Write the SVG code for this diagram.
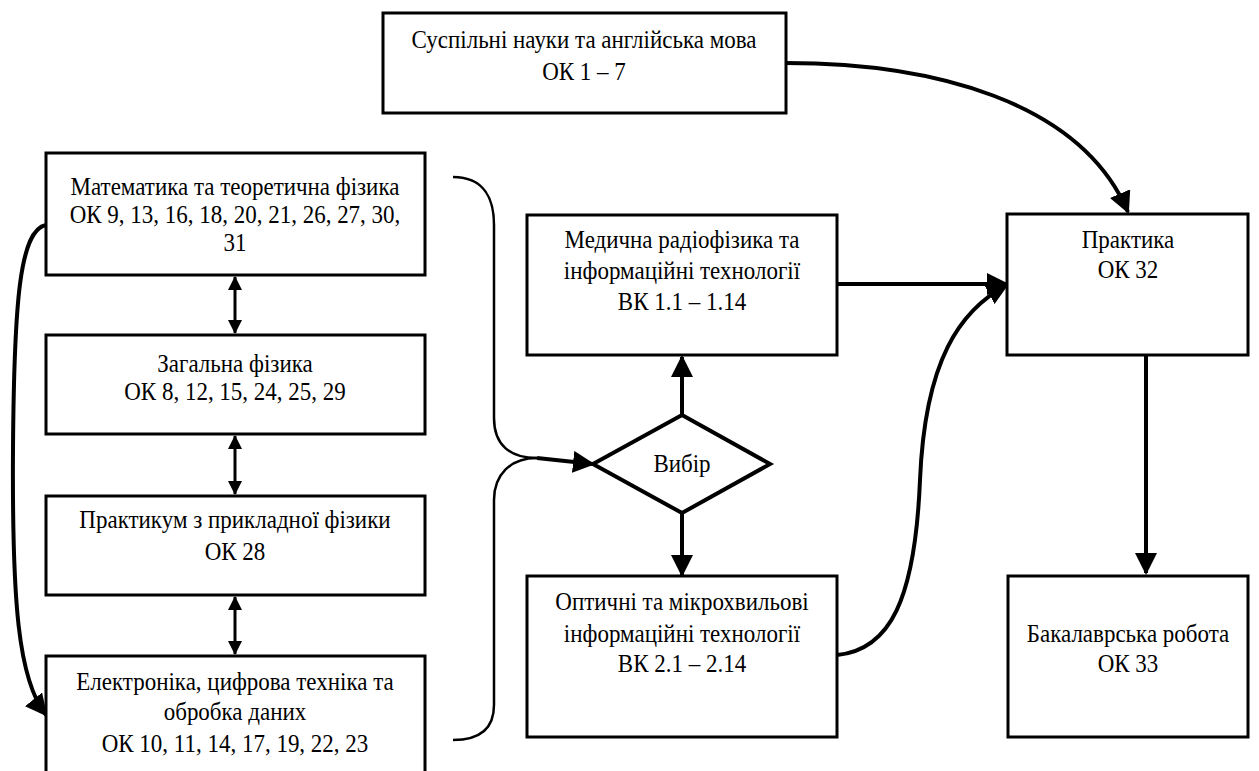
<svg xmlns="http://www.w3.org/2000/svg" width="1259" height="771" viewBox="0 0 1259 771">
<defs>
<style>
.box{fill:#fff;stroke:#000;stroke-width:3}
.t{font-family:"Liberation Serif","Times New Roman",serif;font-size:23px;fill:#000;text-anchor:middle}
.c{fill:none;stroke:#000;stroke-width:4}
.b{fill:none;stroke:#000;stroke-width:2.5}
.d{fill:none;stroke:#000;stroke-width:3}
</style>
<marker id="ah" markerUnits="userSpaceOnUse" markerWidth="22" markerHeight="22" viewBox="0 0 22 22" refX="20" refY="11" orient="auto">
<path d="M0,0 L22,11 L0,22 Z" fill="#000"/>
</marker>
<marker id="sh" markerUnits="userSpaceOnUse" markerWidth="14" markerHeight="14" viewBox="0 0 14 14" refX="13" refY="7" orient="auto-start-reverse">
<path d="M0,0 L14,7 L0,14 Z" fill="#000"/>
</marker>
</defs>
<g id="connectors">
<path class="c" d="M786,63 C930,63 1080,100 1128,212" marker-end="url(#ah)"/>
<path class="c" d="M837,284 L1007,284" marker-end="url(#ah)"/>
<path class="c" d="M837,655 C890,650 915,600 920,480 C925,360 960,310 1007,285" marker-end="url(#ah)"/>
<path class="c" d="M682,415 L682,357" marker-end="url(#ah)"/>
<path class="c" d="M682,513 L682,575" marker-end="url(#ah)"/>
<path class="c" d="M1146,355 L1146,573" marker-end="url(#ah)"/>
<path class="b" d="M453,177 C485,177 494,200 494,225 L494,418 C494,445 510,458 537,458"/>
<path class="b" d="M537,458 C510,458 494,475 494,500 L494,705 C494,728 480,740 453,740"/>
<path class="c" d="M537,458 L593,464" marker-end="url(#ah)"/>
<path class="c" d="M46,225 C20,230 14,300 13,450 C12,600 18,680 46,715" marker-end="url(#ah)"/>
<path class="d" d="M235,277 L235,333" marker-start="url(#sh)" marker-end="url(#sh)"/>
<path class="d" d="M235,436 L235,494" marker-start="url(#sh)" marker-end="url(#sh)"/>
<path class="d" d="M235,597 L235,654" marker-start="url(#sh)" marker-end="url(#sh)"/>
</g>
<g id="n-social">
<rect class="box" x="383" y="13" width="403" height="100"/>
<text class="t" transform="translate(584,48) scale(1,1.1)">Суспільні науки та англійська мова</text>
<text class="t" transform="translate(584,80) scale(1,1.1)">ОК 1 – 7</text>
</g>
<g id="n-math">
<rect class="box" x="46" y="153" width="379" height="122"/>
<text class="t" transform="translate(235,195) scale(1,1.1)">Математика та теоретична фізика</text>
<text class="t" transform="translate(235,223) scale(1,1.1)">ОК 9, 13, 16, 18, 20, 21, 26, 27, 30,</text>
<text class="t" transform="translate(235,251) scale(1,1.1)">31</text>
</g>
<g id="n-genphys">
<rect class="box" x="46" y="335" width="379" height="99"/>
<text class="t" transform="translate(235,372) scale(1,1.1)">Загальна фізика</text>
<text class="t" transform="translate(235,400) scale(1,1.1)">ОК 8, 12, 15, 24, 25, 29</text>
</g>
<g id="n-practicum">
<rect class="box" x="46" y="496" width="379" height="99"/>
<text class="t" transform="translate(235,528) scale(1,1.1)">Практикум з прикладної фізики</text>
<text class="t" transform="translate(235,560) scale(1,1.1)">ОК 28</text>
</g>
<g id="n-electronics">
<rect class="box" x="46" y="656" width="379" height="125"/>
<text class="t" transform="translate(235,690) scale(1,1.1)">Електроніка, цифрова техніка та</text>
<text class="t" transform="translate(235,720) scale(1,1.1)">обробка даних</text>
<text class="t" transform="translate(235,752) scale(1,1.1)">ОК 10, 11, 14, 17, 19, 22, 23</text>
</g>
<g id="n-choice">
<polygon points="682,415 770,464 682,513 593,464" fill="#fff" stroke="#000" stroke-width="4"/>
<text class="t" transform="translate(682,472) scale(1,1.1)">Вибір</text>
</g>
<g id="n-medical">
<rect class="box" x="527" y="215" width="310" height="140"/>
<text class="t" transform="translate(682,248) scale(1,1.1)">Медична радіофізика та</text>
<text class="t" transform="translate(682,279) scale(1,1.1)">інформаційні технології</text>
<text class="t" transform="translate(682,310) scale(1,1.1)">ВК 1.1 – 1.14</text>
</g>
<g id="n-optical">
<rect class="box" x="527" y="576" width="310" height="161"/>
<text class="t" transform="translate(682,610) scale(1,1.1)">Оптичні  та  мікрохвильові</text>
<text class="t" transform="translate(682,642) scale(1,1.1)">інформаційні  технології</text>
<text class="t" transform="translate(682,672) scale(1,1.1)">ВК 2.1 – 2.14</text>
</g>
<g id="n-practice">
<rect class="box" x="1007" y="214" width="241" height="141"/>
<text class="t" transform="translate(1128,248) scale(1,1.1)">Практика</text>
<text class="t" transform="translate(1128,278) scale(1,1.1)">ОК 32</text>
</g>
<g id="n-bachelor">
<rect class="box" x="1008" y="576" width="240" height="161"/>
<text class="t" transform="translate(1128,642) scale(1,1.1)">Бакалаврська робота</text>
<text class="t" transform="translate(1128,672) scale(1,1.1)">ОК 33</text>
</g>
</svg>
